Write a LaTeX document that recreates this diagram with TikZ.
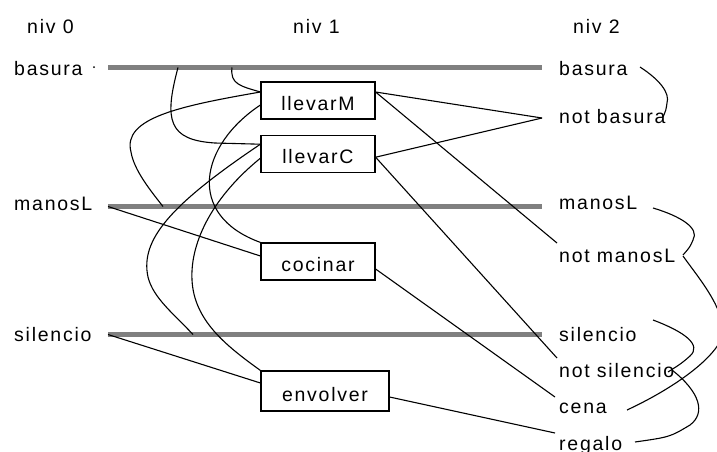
\documentclass[tikz,border=0pt]{standalone}
\usepackage{fontspec}
\setmainfont[LetterSpace=9]{Liberation Sans}
\usetikzlibrary{positioning}
\definecolor{levelgray}{HTML}{808080}

\begin{document}
\begin{tikzpicture}[x=1pt, y=-1pt,
        txt/.style={inner sep=0pt, anchor=base west, text height=14pt, text depth=4pt,
                    font=\fontsize{19.5}{23}\selectfont},
        act/.style={draw, line width=1.2pt, inner sep=0pt, minimum height=37pt, minimum width=114pt,
                    text height=22pt, text depth=2pt, font=\fontsize{19.5}{23}\selectfont},
        bar/.style={line width=4.5pt, levelgray},
        link/.style={line width=1.1pt},
    ]
    \useasboundingbox (0,0) rectangle (717,451);
    \clip (0,0) rectangle (717,451);

    \node[txt] (h0) at (27,33) {niv 0};
    \node[txt] (h1) at (293,33) {niv 1};
    \node[txt] (h2) at (573,33) {niv 2};

    \node[txt] (b0) at (14,75) {basura};
    \node[txt] (m0) at (14,210) {manosL};
    \node[txt] (s0) at (14,341) {silencio};
    \node[circle, fill, inner sep=0pt, minimum size=2pt] (dot) at (94,67) {};

    \node[txt] (b2) at (559,75) {basura};
    \node[txt] (nb2) at (559,123) {not basura};
    \node[txt] (m2) at (559,209) {manosL};
    \node[txt] (nm2) at (559,262) {not manosL};
    \node[txt] (s2) at (559,341) {silencio};
    \node[txt] (ns2) at (559,377) {not silencio};
    \node[txt] (cena) at (559,413) {cena};
    \node[txt] (reg) at (559,450) {regalo};

    \coordinate (bb) at (108,67.5);
    \coordinate (be) at (542,67.5);
    \coordinate (mb) at (108,206.5);
    \coordinate (me) at (542,206.5);
    \coordinate (sb) at (108,334.5);
    \coordinate (se) at (542,334.5);
    \draw[bar] (bb) -- (be);
    \draw[bar] (mb) -- (me);
    \draw[bar] (sb) -- (se);

    \node[act] (lM) at (318,100.5) {llevarM};
    \node[act, below=15pt of lM] (lC) {llevarC};
    \node[act] (coc) at (318,261.5) {cocinar};
    \node[act, minimum width=128pt, minimum height=40pt] (env) at (325,391) {envolver};

    \draw[link] ([yshift=8.5pt]lM.east) -- ([xshift=-17pt]nb2.west);
    \draw[link] ([yshift=-3.5pt]lC.east) -- ([xshift=-17pt]nb2.west);
    \draw[link] ([yshift=8.5pt]lM.east) -- ([shift={(-2pt,14pt)}]nm2.west);
    \draw[link] ([yshift=-3.5pt]lC.east) -- ([shift={(-2pt,14pt)}]ns2.west);
    \draw[link] ([yshift=-7.5pt]coc.east) -- ([shift={(-4pt,11pt)}]cena.west);
    \draw[link] ([yshift=-6pt]env.east) -- ([shift={(-4pt,12pt)}]reg.west);
    \draw[link] (mb) -- ([yshift=5.5pt]coc.west);
    \draw[link] (sb) -- ([yshift=8pt]env.west);

    \draw[link] ([xshift=70pt]bb) .. controls (164,120) and (168,140) .. (215,143) -- ([yshift=9.5pt]lC.west);
    \draw[link] ([xshift=124pt]bb) .. controls (230,84) and (240,86) .. ([yshift=8.5pt]lM.west);
    \draw[link] ([yshift=8.5pt]lM.west) .. controls (180,106) and (122,118) .. (131,152)
        .. controls (134,170) and (150,190) .. ([xshift=55pt]mb);
    \draw[link] ([yshift=-4.5pt]lM.west) .. controls (200,145) and (185,215) .. (coc.north west);
    \draw[link] ([yshift=9.5pt]lC.west) .. controls (170,205) and (140,240) .. (148,277)
        .. controls (153,298) and (175,315) .. ([xshift=85pt]sb);
    \draw[link] ([yshift=-4.5pt]lC.west) .. controls (215,195) and (190,240) .. (192,280)
        .. controls (194,320) and (225,345) .. (env.north west);

    \draw[link] ([shift={(81pt,3pt)}]b2.west) .. controls (660,80) and (670,93) .. (667,103)
        .. controls (666,110) .. ([shift={(104pt,1pt)}]nb2.west);
    \draw[link] ([shift={(94pt,-4pt)}]m2.west) .. controls (680,216) and (700,228) .. (693,240)
        .. controls (690,247) .. ([shift={(124pt,2pt)}]nm2.west);
    \draw[link] ([shift={(124pt,1pt)}]nm2.west) .. controls (700,280) and (735,320) .. (718,345)
        .. controls (705,365) and (670,390) .. ([shift={(68pt,-2pt)}]cena.west);
    \draw[link] ([shift={(94pt,16pt)}]s2.west) .. controls (685,332) and (702,345) .. (690,356)
        .. controls (682,363) .. ([shift={(109pt,0pt)}]ns2.west);
    \draw[link] ([shift={(113pt,2pt)}]ns2.west) .. controls (700,392) and (706,413) .. (690,425)
        .. controls (670,437) .. ([shift={(76pt,3pt)}]reg.west);
\end{tikzpicture}
\end{document}
